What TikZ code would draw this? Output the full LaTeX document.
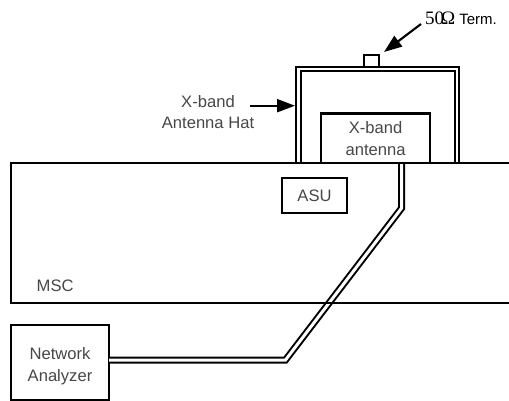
\documentclass[tikz,border=0pt]{standalone}
\usepackage{fontspec}
\setmainfont{Liberation Sans}
\newfontfamily\termfont{Liberation Serif}
\usetikzlibrary{arrows.meta, positioning}

\begin{document}
\begin{tikzpicture}[
    x=1pt, y=-1pt,
    box/.style={rectangle, draw, line width=2.1pt, align=center, inner sep=0pt, outer sep=0pt, font=\fontsize{16.6}{21.5}\selectfont, text=black!72},
    label/.style={align=center, inner sep=0pt, font=\fontsize{16.6}{21.5}\selectfont, text=black!72},
    wall/.style={line width=2pt},
    coax/.style={double, line width=2pt, double distance=3pt, line join=miter},
    arrow/.style={-{Triangle[length=18pt,width=13pt]}, line width=2.1pt}
]
\useasboundingbox (0,0) rectangle (509,401);

\coordinate (bendlow) at (285.5,360);
\coordinate (bendhigh) at (401.7,208);
\coordinate (mscnw) at (11,163);
\coordinate (mscne) at (509,163);
\coordinate (mscse) at (509,303);

\node[box, minimum width=109.3pt, minimum height=49.7pt] (antenna) at (375.6,138.4) {X-band\\antenna};
\node[box, minimum width=65.6pt, minimum height=35pt] (asu) at (314.5,195.8) {ASU};
\node[box, minimum width=98pt, minimum height=74.5pt] (analyzer) at (60,362.5) {\rule{0pt}{19pt}Network\\Analyzer};
\node[box, minimum width=14.7pt, minimum height=11.4pt] (term) at (371.3,61) {};
\node[label, anchor=west] (msclabel) at (36.5,286) {MSC};
\node[label] (hatlabel) at (208,112) {X-band\\Antenna Hat};
\node[inner sep=0pt, anchor=west] (termlabel) at (425,18) {\termfont\fontsize{19}{20}\selectfont 50\kern-3pt Ω\kern4pt\rmfamily\fontsize{15}{16}\selectfont Term.};
\coordinate (hatleft) at (298.7,163);
\coordinate (hatright) at (457,163);
\coordinate (hattop) at (0,69);

% hat and cable
\draw[coax, line width=2.1pt, double distance=2.6pt] (hatleft) |- (hattop -| term.south) -| (hatright);
\draw[coax] (analyzer.east |- bendlow) -- (bendlow) -- (bendhigh) -- (antenna.south -| bendhigh);

\draw[wall] (mscne) -- (mscnw) |- (mscse);

\draw[arrow] (421,24) -- (384,52);
\draw[arrow] (250,105.7) -- (295,105.7);
\end{tikzpicture}
\end{document}
